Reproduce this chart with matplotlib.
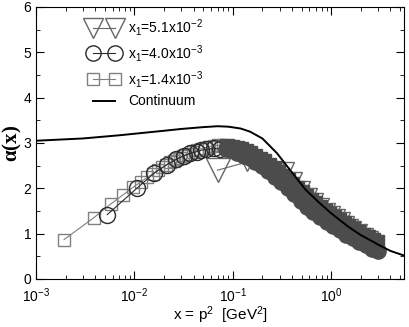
import numpy as np
import matplotlib
matplotlib.use("Agg")
import matplotlib.pyplot as plt
from matplotlib.ticker import MultipleLocator, LogLocator

plt.rcParams['font.family'] = ['Liberation Sans', 'DejaVu Sans']
plt.rcParams['mathtext.default'] = 'regular'

# continuum curve
cont_x = [1e-3, 3e-3, 7e-3, 0.02, 0.03, 0.05, 0.07, 0.09, 0.12, 0.15, 0.2,
          0.28, 0.4, 0.55, 0.75, 1.0, 1.5, 2.0, 3.0, 4.0, 6.0]
cont_y = [3.05, 3.10, 3.17, 3.27, 3.31, 3.35, 3.37, 3.36, 3.32, 3.25, 3.10,
          2.78, 2.35, 1.97, 1.69, 1.45, 1.15, 0.97, 0.76, 0.62, 0.49]

# x1 = 1.4e-3 (squares)
sq_x = [0.00193, 0.00386, 0.00579, 0.00772, 0.00965, 0.0116, 0.0135, 0.0154,
        0.0174, 0.0193, 0.0212, 0.0232, 0.0251, 0.027, 0.029, 0.031, 0.033,
        0.035, 0.039, 0.043, 0.047, 0.052, 0.058, 0.064, 0.071, 0.079, 0.088,
        0.098, 0.11, 0.12, 0.135, 0.15, 0.17, 0.19, 0.21, 0.235, 0.26, 0.29,
        0.32, 0.36, 0.40, 0.45, 0.50, 0.56, 0.62, 0.69, 0.77, 0.86, 0.96,
        1.07, 1.2, 1.34, 1.5, 1.68, 1.88, 2.1, 2.35, 2.65, 2.95]
sq_y = [0.87, 1.35, 1.66, 1.86, 2.02, 2.14, 2.24, 2.32, 2.40, 2.46, 2.52,
        2.57, 2.61, 2.65, 2.68, 2.71, 2.74, 2.76, 2.80, 2.84, 2.87, 2.90,
        2.92, 2.94, 2.95, 2.95, 2.94, 2.92, 2.89, 2.86, 2.82, 2.77, 2.71,
        2.65, 2.60, 2.52, 2.45, 2.36, 2.28, 2.18, 2.09, 2.00, 1.92, 1.83,
        1.75, 1.67, 1.59, 1.51, 1.44, 1.37, 1.30, 1.23, 1.16, 1.10, 1.04,
        0.98, 0.92, 0.86, 0.81]

# x1 = 4.0e-3 (circles)
ci_x = [0.0053, 0.0107, 0.016, 0.0213, 0.0267, 0.032, 0.037, 0.043, 0.048,
        0.053, 0.064, 0.075, 0.085, 0.096, 0.11, 0.13, 0.15, 0.17, 0.2, 0.23,
        0.27, 0.31, 0.36, 0.42, 0.49, 0.57, 0.66, 0.77, 0.9, 1.05, 1.22,
        1.42, 1.65, 1.92, 2.24, 2.6, 3.0]
ci_y = [1.42, 2.01, 2.34, 2.52, 2.64, 2.72, 2.77, 2.81, 2.84, 2.86, 2.88,
        2.87, 2.86, 2.84, 2.79, 2.72, 2.66, 2.59, 2.50, 2.39, 2.26, 2.14,
        2.01, 1.87, 1.72, 1.59, 1.47, 1.36, 1.26, 1.16, 1.07, 0.98, 0.90,
        0.82, 0.74, 0.67, 0.62]

# x1 = 5.1e-2 (triangles)
tr_x = [0.070, 0.139, 0.209, 0.278, 0.36, 0.44, 0.53, 0.62, 0.72, 0.83,
        0.95, 1.07, 1.2, 1.36, 1.5, 1.64, 1.76, 2.0, 2.3, 2.6]
tr_y = [2.40, 2.58, 2.42, 2.20, 2.44, 2.22, 2.03, 1.88, 1.77, 1.66, 1.54,
        1.47, 1.42, 1.34, 1.26, 1.19, 1.14, 1.07, 0.99, 0.93]

fig = plt.figure(figsize=(4.09, 3.27), dpi=100)
ax = fig.add_axes([36/409, 1-279/327, 368/409, 272/327])

band = '#4c4c4c'
cut = 0.08

# triangles first (underneath the band)
tr_ms = [17, 13, 10, 9] + [8] * (len(tr_x) - 4)
ax.plot(tr_x, tr_y, '-', color='#666666', lw=0.8, zorder=2)
for x, y, m in zip(tr_x, tr_y, tr_ms):
    ax.plot(x, y, 'v', ms=m, mfc='white' if x > 0.3 else 'none',
            mec='#666666', mew=1.0, zorder=2)

def series(xs, ys, mk, ms, ec, ms_band):
    xs = np.array(xs)
    ys = np.array(ys)
    ax.plot(xs, ys, '-', color=ec, lw=0.8, zorder=3)
    lo = xs < cut
    ax.plot(xs[lo], ys[lo], mk, ms=ms, mfc='none', mec=ec, mew=1.0,
            ls='none', zorder=3)
    ax.plot(xs[~lo], ys[~lo], mk, ms=ms_band, mfc=band, mec=band, mew=1.0,
            ls='none', zorder=4)

series(sq_x, sq_y, 's', 8.5, '#808080', 10)
series(ci_x, ci_y, 'o', 11.5, '#2a2a2a', 11)

ax.plot(cont_x, cont_y, '-', color='black', lw=1.4, zorder=5)

# legend handles
h1, = ax.plot([], [], 'v-', ms=14, mfc='none', mec='#666666', color='#666666',
              lw=0.8, label='x$_1$=5.1x10$^{-2}$')
h2, = ax.plot([], [], 'o-', ms=11, mfc='none', mec='#2a2a2a', color='#2a2a2a',
              lw=0.8, label='x$_1$=4.0x10$^{-3}$')
h3, = ax.plot([], [], 's-', ms=8.5, mfc='none', mec='#808080', color='#808080',
              lw=0.8, label='x$_1$=1.4x10$^{-3}$')
h4, = ax.plot([], [], '-', color='black', lw=1.4, label='Continuum')
ax.legend(handles=[h1, h2, h3, h4], loc='upper left',
          bbox_to_anchor=(0.11, 1.01), frameon=False, fontsize=10,
          numpoints=2, handlelength=2.2, labelspacing=0.35, handletextpad=0.6)

ax.set_xscale('log')
ax.set_xlim(1e-3, 5.5)
ax.set_ylim(0, 6)
ax.yaxis.set_major_locator(MultipleLocator(1))
ax.yaxis.set_minor_locator(MultipleLocator(0.5))
ax.xaxis.set_minor_locator(LogLocator(base=10, subs=np.arange(2, 10)))
ax.tick_params(which='both', direction='in', top=True, right=True,
               labelsize=10)
ax.tick_params(which='major', length=6)
ax.tick_params(which='minor', length=3)
ax.tick_params(axis='x', which='major', pad=5)

ax.set_xlabel('x = p$^2$  [GeV$^2$]', fontsize=11, labelpad=0)
ax.set_ylabel(r'$\alpha$(x)', fontsize=15, fontweight='bold',
              family=['Liberation Serif', 'DejaVu Serif'])
ax.yaxis.set_label_coords(-0.032, 0.5)

fig.savefig('out.png', dpi=100)
